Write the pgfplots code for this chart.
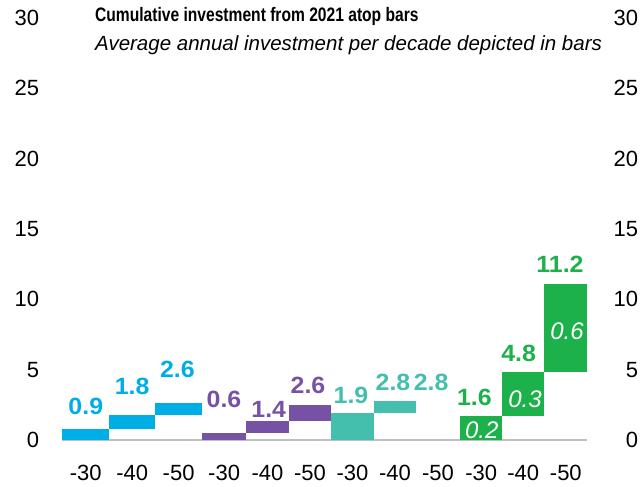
\documentclass[border=0pt]{standalone}
\usepackage{pgfplots}
\usepackage{pgfplotstable}
\pgfplotsset{compat=1.18}
\usepackage{fontspec}
\setmainfont{Liberation Sans}
\newfontfamily\titlefont{Liberation Sans}[FakeStretch=0.8]
\newfontfamily\labfont{Liberation Sans}[FakeStretch=1.06]
\definecolor{cBlue}{HTML}{00AEE6}
\definecolor{cPurple}{HTML}{7752A4}
\definecolor{cTeal}{HTML}{45BFAD}
\definecolor{cGreen}{HTML}{1DB14B}
\definecolor{cAxis}{HTML}{BFBFBF}

\pgfplotstableread{
x y label
0.537 2.38 0.9
1.597 3.80 1.8
2.63 5.02 2.6
}\blueLab
\pgfplotstableread{
x y label
3.696 2.91 0.6
4.718 2.20 1.4
5.616 3.91 2.6
}\purpleLab
\pgfplotstableread{
x y label
6.599 3.14 1.9
7.559 4.09 2.8
8.43 4.09 2.8
}\tealLab
\pgfplotstableread{
x y label
9.42 3.02 1.6
10.43 6.16 4.8
11.376 12.52 11.2
}\greenLab
\pgfplotstableread{
x y label
9.586 0.71 0.2
10.576 2.91 0.3
11.536 7.70 0.6
}\innerLab

\begin{document}
\begin{tikzpicture}[x=1bp,y=1bp]
\path[use as bounding box] (0,0) rectangle (641,487);
\begin{axis}[
  at={(62.3bp,47bp)}, anchor=south west,
  width=525bp, height=422.1bp, scale only axis,
  xmin=0, xmax=12, ymin=0, ymax=30, clip=false,
  axis x line*=bottom, axis y line*=left,
  y axis line style={draw=none},
  x axis line style={draw=cAxis, line width=1.3bp, -},
  xtick={0.537,1.597,2.659,3.699,4.691,5.662,6.634,7.605,8.588,9.574,10.537,11.509},
  xticklabels={-30,-40,-50,-30,-40,-50,-30,-40,-50,-30,-40,-50},
  xtick style={draw=none},
  extra x ticks={0,1.074,2.119,3.198,4.199,5.182,6.142,7.125,8.085,9.090,10.057,11.017,12},
  extra x tick labels={},
  extra x tick style={tick style={draw=cAxis, line width=1.1bp}, major tick length=7bp, tick align=outside},
  xticklabel style={font=\fontsize{22bp}{26bp}\selectfont, inner sep=0pt, yshift=-25bp},
  ytick={0,5,...,30},
  ytick style={draw=none},
  yticklabel style={font=\fontsize{22bp}{26bp}\selectfont, anchor=east, inner sep=0pt, xshift=-23bp},
  /pgf/number format/assume math mode=true,
]
% floating bars: previous cumulative to current cumulative
\addplot[fill=cBlue, draw=none] coordinates {(0,0) (1.074,0) (1.074,0.80) (0,0.80)};
\addplot[fill=cBlue, draw=none] coordinates {(1.074,0.80) (2.119,0.80) (2.119,1.78) (1.074,1.78)};
\addplot[fill=cBlue, draw=none] coordinates {(2.119,1.78) (3.198,1.78) (3.198,2.60) (2.119,2.60)};
\addplot[fill=cPurple, draw=none] coordinates {(3.198,0) (4.199,0) (4.199,0.52) (3.198,0.52)};
\addplot[fill=cPurple, draw=none] coordinates {(4.199,0.52) (5.182,0.52) (5.182,1.36) (4.199,1.36)};
\addplot[fill=cPurple, draw=none] coordinates {(5.182,1.36) (6.142,1.36) (6.142,2.48) (5.182,2.48)};
\addplot[fill=cTeal, draw=none] coordinates {(6.142,0) (7.125,0) (7.125,1.92) (6.142,1.92)};
\addplot[fill=cTeal, draw=none] coordinates {(7.125,1.92) (8.085,1.92) (8.085,2.77) (7.125,2.77)};
\addplot[fill=cGreen, draw=none] coordinates {(9.090,0) (10.057,0) (10.057,1.67) (9.090,1.67)};
\addplot[fill=cGreen, draw=none] coordinates {(10.057,1.67) (11.017,1.67) (11.017,4.80) (10.057,4.80)};
\addplot[fill=cGreen, draw=none] coordinates {(11.017,4.80) (12,4.80) (12,11.10) (11.017,11.10)};
% labels
\addplot[draw=none, mark=none, nodes near coords, point meta=explicit symbolic,
  every node near coord/.append style={anchor=center, inner sep=0pt, text=cBlue, font=\labfont\bfseries\fontsize{23.5bp}{27bp}\selectfont}]
  table[x=x, y=y, meta=label] {\blueLab};
\addplot[draw=none, mark=none, nodes near coords, point meta=explicit symbolic,
  every node near coord/.append style={anchor=center, inner sep=0pt, text=cPurple, font=\labfont\bfseries\fontsize{23.5bp}{27bp}\selectfont}]
  table[x=x, y=y, meta=label] {\purpleLab};
\addplot[draw=none, mark=none, nodes near coords, point meta=explicit symbolic,
  every node near coord/.append style={anchor=center, inner sep=0pt, text=cTeal, font=\labfont\bfseries\fontsize{23.5bp}{27bp}\selectfont}]
  table[x=x, y=y, meta=label] {\tealLab};
\addplot[draw=none, mark=none, nodes near coords, point meta=explicit symbolic,
  every node near coord/.append style={anchor=center, inner sep=0pt, text=cGreen, font=\labfont\bfseries\fontsize{23.5bp}{27bp}\selectfont}]
  table[x=x, y=y, meta=label] {\greenLab};
\addplot[draw=none, mark=none, nodes near coords, point meta=explicit symbolic,
  every node near coord/.append style={anchor=center, inner sep=0pt, text=white, font=\itshape\fontsize{24bp}{28bp}\selectfont}]
  table[x=x, y=y, meta=label] {\innerLab};
\end{axis}
\begin{axis}[
  at={(62.3bp,47bp)}, anchor=south west,
  width=525bp, height=422.1bp, scale only axis,
  xmin=0, xmax=12, ymin=0, ymax=30,
  hide x axis,
  axis y line*=right,
  y axis line style={draw=none},
  ytick={0,5,...,30},
  ytick style={draw=none},
  yticklabel style={font=\fontsize{22bp}{26bp}\selectfont, anchor=east, inner sep=0pt, xshift=51bp},
  /pgf/number format/assume math mode=true,
]
\addplot[draw=none] coordinates {(0,0)};
\end{axis}
\node[anchor=base west, inner sep=0pt, font=\titlefont\bfseries\fontsize{19.5bp}{23bp}\selectfont] at (95,465) {Cumulative investment from 2021 atop bars};
\node[anchor=base west, inner sep=0pt, font=\itshape\fontsize{20.5bp}{24bp}\selectfont] at (95,436) {Average annual investment per decade depicted in bars};
\end{tikzpicture}
\end{document}
